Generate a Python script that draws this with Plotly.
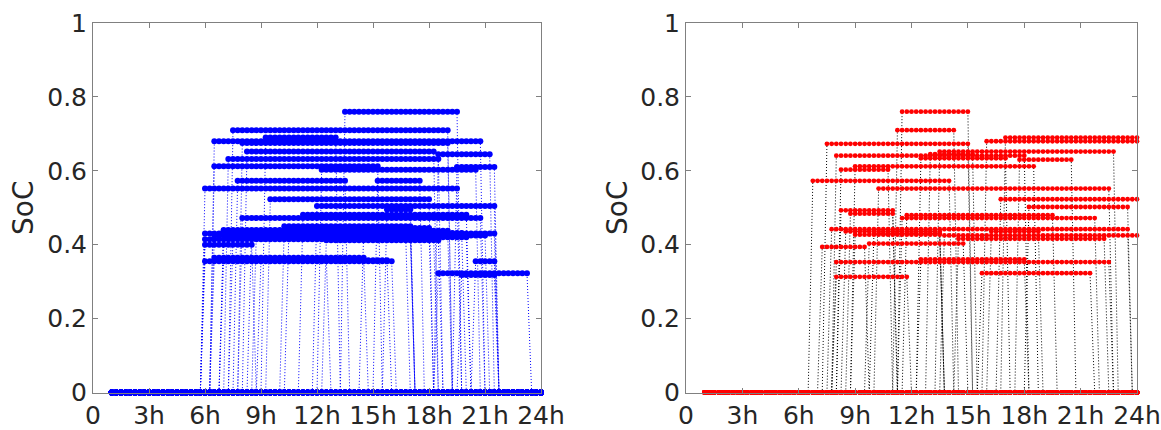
import numpy as np
import plotly.graph_objects as go

# ---- data (hours, SoC) ----
left_arr = [13.5, 7.5, 6.5, 9.1, 8.0, 8.1, 18.4, 7.2, 6.5, 12.1, 19.3, 7.7, 15.2, 6.0, 9.4, 11.8,
            15.6, 11.1, 8.0, 7.0, 6.0, 6.3, 6.0, 6.0, 8.5, 6.5, 6.0, 20.5, 18.3, 19.7, 10.5,
            6.8, 7.3, 8.6, 10.2, 6.8, 8.9, 12.5, 14.4]
left_dep = [19.7, 19.2, 20.9, 13.1, 19.2, 18.4, 21.4, 18.5, 15.4, 20.6, 21.6, 13.7, 17.5, 19.5, 18.0, 21.7,
            17.2, 20.2, 20.9, 17.2, 21.6, 21.1, 18.3, 8.7, 17.0, 14.5, 16.1, 21.7, 23.3, 21.7, 18.0,
            19.0, 20.1, 16.8, 17.2, 12.5, 15.8, 18.7, 19.9]
left_soc = [0.76, 0.71, 0.68, 0.69, 0.675, 0.652, 0.645, 0.632, 0.612, 0.603, 0.61, 0.573, 0.573, 0.552, 0.523, 0.505,
            0.495, 0.481, 0.472, 0.44, 0.43, 0.425, 0.415, 0.40, 0.435, 0.365, 0.355, 0.355, 0.323, 0.318, 0.445,
            0.438, 0.42, 0.428, 0.45, 0.36, 0.358, 0.412, 0.432]

right_arr = [11.4, 11.15, 16.9, 16.0, 7.3, 13.3, 7.8, 12.3, 17.6, 8.9, 8.2, 6.7, 10.1, 16.7, 18.1, 8.2,
             8.75, 11.4, 7.7, 8.5, 16.2, 8.9, 13.6, 14.5, 9.6, 7.2, 12.3, 8.0, 15.7, 8.0, 13.0, 9.8, 11.6]
right_dep = [15.2, 14.4, 24.0, 24.0, 15.2, 22.9, 18.0, 17.1, 20.5, 18.5, 10.8, 14.2, 22.6, 24.0, 23.7, 11.1,
             11.0, 21.9, 23.6, 13.5, 18.8, 13.5, 24.0, 22.4, 14.9, 9.6, 18.1, 22.5, 21.5, 11.8, 15.4, 13.5, 19.5]
right_soc = [0.76, 0.71, 0.69, 0.68, 0.673, 0.652, 0.641, 0.634, 0.63, 0.612, 0.603, 0.573, 0.552, 0.523, 0.502, 0.493,
             0.484, 0.472, 0.442, 0.436, 0.436, 0.427, 0.425, 0.416, 0.403, 0.394, 0.36, 0.353, 0.323, 0.313, 0.645, 0.43, 0.48]

x_tickvals = [0, 3, 6, 9, 12, 15, 18, 21, 24]
x_ticktext = ["0", "3h", "6h", "9h", "12h", "15h", "18h", "21h", "24h"]
y_tickvals = [0, 0.2, 0.4, 0.6, 0.8, 1]
y_ticktext = ["0", "0.2", "0.4", "0.6", "0.8", "1"]

t_grid = np.arange(1.0, 24.0001, 0.25)  # 15-min samples


def build(arr, dep, soc):
    xs, ys = [], []
    for a, d, s in zip(arr, dep, soc):
        for t in t_grid:
            xs.append(float(t))
            ys.append(s if (a - 1e-9) <= t <= (d + 1e-9) else 0.0)
        xs.append(None)
        ys.append(None)
    return xs, ys


FONT = "DejaVu Sans, Arial, sans-serif"

fig = go.Figure()

lx, ly = build(left_arr, left_dep, left_soc)
fig.add_trace(go.Scatter(x=lx, y=ly, mode="lines+markers", xaxis="x", yaxis="y",
                         line=dict(color="#0000ff", width=1, dash="1px,2px"),
                         marker=dict(color="#0000ff", size=6),
                         cliponaxis=False, showlegend=False))

rx, ry = build(right_arr, right_dep, right_soc)
fig.add_trace(go.Scatter(x=rx, y=ry, mode="lines+markers", xaxis="x2", yaxis="y2",
                         line=dict(color="#000000", width=1, dash="1px,2px"),
                         marker=dict(color="#ff0000", size=4.8),
                         cliponaxis=False, showlegend=False))

W, H = 1161, 430
ytop, ybot = 23, 392.5
ydom = [1 - ybot / H, 1 - ytop / H]

axis_common = dict(showgrid=False, zeroline=False, showline=True, linecolor="#808080", linewidth=1,
                   mirror="ticks", ticks="inside", ticklen=5, tickcolor="#808080", automargin=False,
                   tickfont=dict(family=FONT, size=25, color="#262626"))

fig.update_layout(
    width=W, height=H, margin=dict(l=0, r=0, t=0, b=0, autoexpand=False),
    paper_bgcolor="white", plot_bgcolor="white",
    xaxis=dict(domain=[93 / W, 541 / W], range=[0, 24], tickvals=x_tickvals, ticktext=x_ticktext,
               anchor="y", **axis_common),
    yaxis=dict(domain=ydom, range=[0, 1], tickvals=y_tickvals, ticktext=y_ticktext,
               anchor="x", **axis_common),
    xaxis2=dict(domain=[686 / W, 1137 / W], range=[0, 24], tickvals=x_tickvals, ticktext=x_ticktext,
                anchor="y2", **axis_common),
    yaxis2=dict(domain=ydom, range=[0, 1], tickvals=y_tickvals, ticktext=y_ticktext,
                anchor="x2", **axis_common),
    annotations=[
        dict(text="SoC", x=23 / W, y=1 - 208 / H, xref="paper", yref="paper", textangle=-90,
             xanchor="center", yanchor="middle",
             showarrow=False, font=dict(family=FONT, size=28, color="#262626")),
        dict(text="SoC", x=617 / W, y=1 - 208 / H, xref="paper", yref="paper", textangle=-90,
             xanchor="center", yanchor="middle",
             showarrow=False, font=dict(family=FONT, size=28, color="#262626")),
    ],
)

fig.write_html("out.html")
